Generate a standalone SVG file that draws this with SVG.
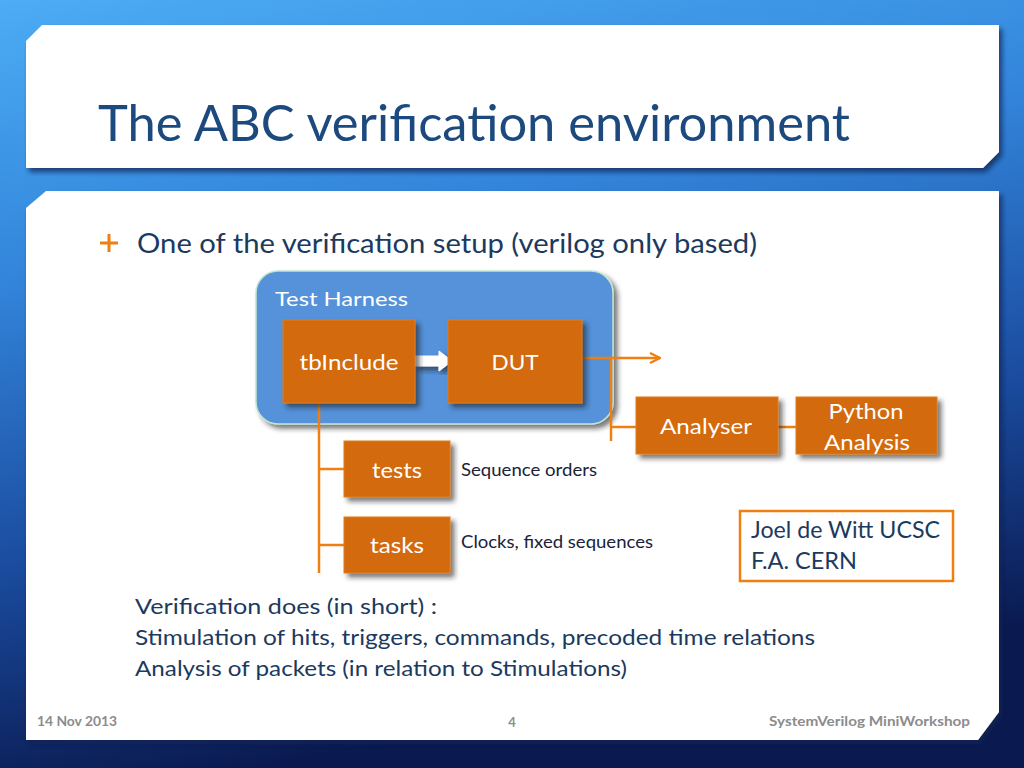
<svg xmlns="http://www.w3.org/2000/svg" width="1024" height="768" viewBox="0 0 1024 768">
<defs>
<linearGradient id="bg" x1="0" y1="0" x2="0.25" y2="1">
<stop offset="0" stop-color="#4cacf4"/>
<stop offset="0.35" stop-color="#3284da"/>
<stop offset="0.7" stop-color="#1a4b9e"/>
<stop offset="1" stop-color="#0a1a50"/>
</linearGradient>
<filter id="pshadow" x="-5%" y="-5%" width="110%" height="115%">
<feDropShadow dx="3" dy="4" stdDeviation="2.5" flood-color="#0a2050" flood-opacity="0.75"/>
</filter>
<filter id="bshadow" x="-10%" y="-10%" width="130%" height="130%">
<feDropShadow dx="4" dy="4" stdDeviation="2.5" flood-color="#202020" flood-opacity="0.6"/>
</filter>
<marker id="open" viewBox="0 0 12 12" refX="11" refY="6" markerWidth="12" markerHeight="12" markerUnits="userSpaceOnUse" orient="auto">
<path d="M1,1 L11,6 L1,11" fill="none" stroke="#f07f12" stroke-width="2.4" stroke-linejoin="miter"/>
</marker>
</defs>
<style>
text{font-family:Lato,"Open Sans","Liberation Sans",sans-serif}
.box{fill:#d36a08;stroke:#e07d1c;stroke-width:1;filter:url(#bshadow)}
.lbl{fill:#ffffff;font-size:22px;text-anchor:middle}
.body{fill:#1c3a5e}
.note{fill:#1a2238;font-size:17px}
.conn{fill:none;stroke:#f07f12;stroke-width:2.5}
.foot{fill:#8c8c8c;font-size:13px;font-weight:bold}
</style>
<rect width="1024" height="768" fill="url(#bg)"/>
<g id="title-panel">
<path d="M26,41 L42,25 L999,25 L999,152 L983,168 L26,168 Z" fill="#ffffff" filter="url(#pshadow)"/>
<text x="98" y="141" font-size="51" fill="#1d4a7e" textLength="752" lengthAdjust="spacingAndGlyphs">The ABC verification environment</text>
</g>
<g id="content-panel">
<path d="M26,208 L46,191 L999,191 L999,712 L978,740 L26,740 Z" fill="#ffffff" filter="url(#pshadow)"/>
<path d="M100,243 L118,243 M109,234 L109,252" stroke="#f07f12" stroke-width="3" fill="none"/>
<text x="137" y="253" font-size="27" class="body" textLength="620" lengthAdjust="spacingAndGlyphs">One of the verification setup (verilog only based)</text>
</g>
<g id="test-harness">
<rect x="256" y="271" width="357" height="153" rx="22" ry="22" fill="#5592da" stroke="#c4e4d0" stroke-width="1.5" filter="url(#bshadow)"/>
<text x="275" y="306" font-size="20" fill="#ffffff" textLength="133" lengthAdjust="spacingAndGlyphs">Test Harness</text>
</g>
<g id="connectors">
<path class="conn" d="M582,358 L660,358" marker-end="url(#open)"/>
<path class="conn" d="M611,358 L611,441"/>
<path class="conn" d="M611,427 L636,427"/>
<path class="conn" d="M778,427 L796,427"/>
<path class="conn" d="M319,403 L319,573"/>
<path class="conn" d="M319,469 L344,469"/>
<path class="conn" d="M319,545 L344,545"/>
<path d="M414,356 L439,356 L439,351 L452,361 L439,371 L439,366 L414,366 Z" fill="#ffffff" stroke="#ffffff" stroke-width="1" stroke-linejoin="round" filter="url(#bshadow)"/>
</g>
<g id="tbInclude">
<rect class="box" x="283" y="320" width="132" height="83"/>
<text class="lbl" x="349" y="370" textLength="99" lengthAdjust="spacingAndGlyphs">tbInclude</text>
</g>
<g id="DUT">
<rect class="box" x="448" y="320" width="134" height="83"/>
<text class="lbl" x="515" y="370" textLength="47" lengthAdjust="spacingAndGlyphs">DUT</text>
</g>
<g id="Analyser">
<rect class="box" x="636" y="397" width="142" height="57"/>
<text class="lbl" x="706" y="434" font-size="23" textLength="92" lengthAdjust="spacingAndGlyphs">Analyser</text>
</g>
<g id="Python">
<rect class="box" x="796" y="397" width="141" height="57"/>
<text class="lbl" x="866" y="419" font-size="23" textLength="75" lengthAdjust="spacingAndGlyphs">Python</text>
<text class="lbl" x="867" y="450" font-size="23" textLength="86" lengthAdjust="spacingAndGlyphs">Analysis</text>
</g>
<g id="tests">
<rect class="box" x="344" y="441" width="106" height="56"/>
<text class="lbl" x="397" y="478" textLength="50" lengthAdjust="spacingAndGlyphs">tests</text>
<text class="note" x="461" y="476" textLength="136" lengthAdjust="spacingAndGlyphs">Sequence orders</text>
</g>
<g id="tasks">
<rect class="box" x="344" y="517" width="106" height="56"/>
<text class="lbl" x="397" y="553" textLength="54" lengthAdjust="spacingAndGlyphs">tasks</text>
<text class="note" x="461" y="548" textLength="192" lengthAdjust="spacingAndGlyphs">Clocks, fixed sequences</text>
</g>
<g id="authors">
<rect x="740" y="511" width="213" height="70" fill="#ffffff" stroke="#f07f12" stroke-width="2.5"/>
<text x="751" y="538" font-size="23" class="body" textLength="189" lengthAdjust="spacingAndGlyphs">Joel de Witt UCSC</text>
<text x="751" y="569" font-size="23" class="body" textLength="106" lengthAdjust="spacingAndGlyphs">F.A. CERN</text>
</g>
<g id="summary">
<text x="135" y="614" font-size="21" class="body" textLength="302" lengthAdjust="spacingAndGlyphs">Verification does (in short) :</text>
<text x="135" y="645" font-size="21" class="body" textLength="680" lengthAdjust="spacingAndGlyphs">Stimulation of hits, triggers, commands, precoded time relations</text>
<text x="135" y="676" font-size="21" class="body" textLength="492" lengthAdjust="spacingAndGlyphs">Analysis of packets (in relation to Stimulations)</text>
</g>
<g id="footer">
<text class="foot" x="37" y="726" textLength="80" lengthAdjust="spacingAndGlyphs">14 Nov 2013</text>
<text class="foot" x="512" y="727" text-anchor="middle">4</text>
<text class="foot" x="769" y="726" textLength="201" lengthAdjust="spacingAndGlyphs">SystemVerilog MiniWorkshop</text>
</g>
</svg>
